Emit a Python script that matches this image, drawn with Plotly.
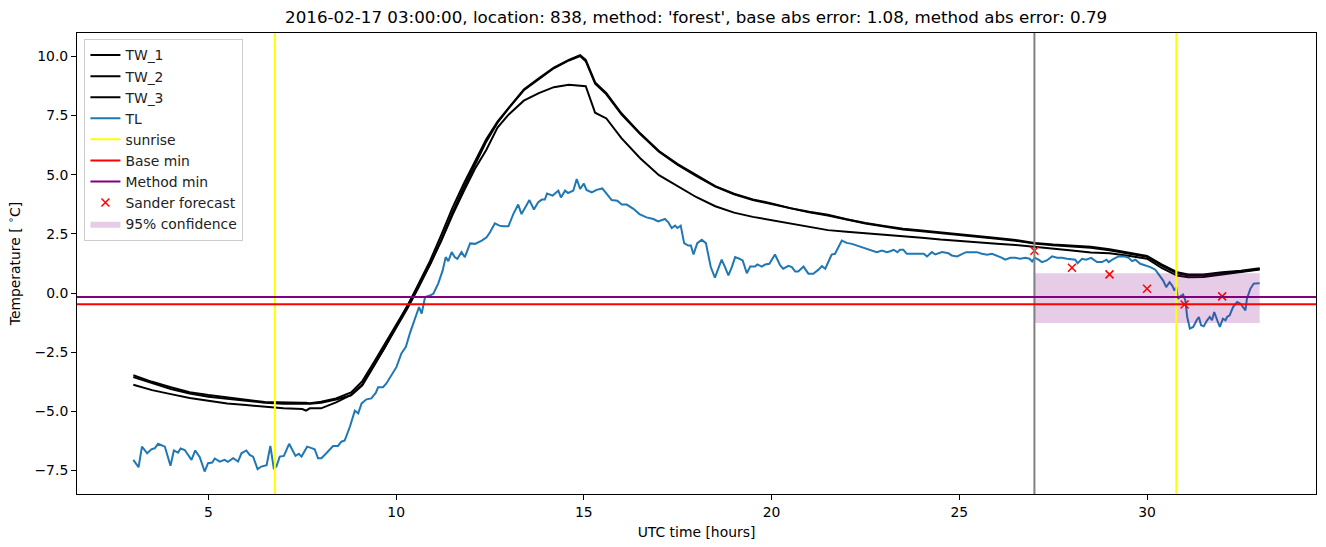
import plotly.graph_objects as go

# ---------------- data ----------------
TW_TIME = [3.0, 3.5, 4.0, 4.5, 5.0, 5.5, 6.0, 6.5, 7.0, 7.5, 7.6, 7.7, 8.0, 8.4, 8.8, 9.1, 9.4, 9.7,
           10.0, 10.3, 10.6, 10.9, 11.2, 11.5, 11.8, 12.1, 12.4, 12.7, 13.0, 13.4, 13.8, 14.2, 14.6,
           14.9, 15.05, 15.3, 15.6, 16.0, 16.5, 17.0, 17.5, 18.0, 18.5, 19.0, 19.5, 20.0, 20.5, 21.0,
           21.5, 22.0, 22.5, 23.0, 23.5, 24.0, 24.5, 25.0, 25.5, 26.0, 26.5, 27.0, 27.5, 28.0, 28.5,
           29.0, 29.5, 30.0, 30.4, 30.8, 31.1, 31.5, 32.0, 32.5, 33.0]
TW_1 = [-3.47, -3.75, -3.98, -4.19, -4.31, -4.42, -4.51, -4.60, -4.63, -4.63, -4.63, -4.66, -4.59,
        -4.45, -4.20, -3.72, -2.95, -2.15, -1.30, -0.55, 0.40, 1.35, 2.45, 3.60, 4.62, 5.55, 6.50,
        7.25, 7.85, 8.60, 9.08, 9.53, 9.85, 10.05, 9.85, 8.90, 8.45, 7.60, 6.75, 6.00, 5.45, 4.97,
        4.52, 4.20, 3.96, 3.79, 3.59, 3.44, 3.31, 3.12, 2.96, 2.84, 2.72, 2.64, 2.57, 2.49, 2.43,
        2.33, 2.24, 2.12, 2.05, 2.00, 1.96, 1.85, 1.70, 1.57, 1.20, 0.88, 0.79, 0.79, 0.88, 0.94, 1.05]
TW_2 = [-3.55, -3.80, -4.05, -4.24, -4.38, -4.47, -4.56, -4.63, -4.68, -4.70, -4.70, -4.68, -4.63,
        -4.50, -4.32, -3.90, -3.10, -2.30, -1.45, -0.65, 0.25, 1.20, 2.25, 3.40, 4.45, 5.45, 6.40,
        7.20, 7.82, 8.57, 9.05, 9.50, 9.83, 10.02, 9.80, 8.85, 8.40, 7.55, 6.72, 5.97, 5.42, 4.94,
        4.50, 4.17, 3.93, 3.76, 3.56, 3.41, 3.28, 3.10, 2.94, 2.81, 2.69, 2.61, 2.54, 2.46, 2.40,
        2.30, 2.21, 2.09, 2.02, 1.97, 1.92, 1.81, 1.66, 1.53, 1.15, 0.84, 0.74, 0.74, 0.84, 0.91, 1.02]
TW_3 = [-3.87, -4.10, -4.27, -4.43, -4.55, -4.67, -4.73, -4.80, -4.87, -4.90, -4.97, -4.87, -4.87,
        -4.62, -4.30, -3.85, -3.10, -2.30, -1.40, -0.55, 0.30, 1.20, 2.20, 3.30, 4.30, 5.25, 6.05,
        6.99, 7.55, 8.13, 8.45, 8.70, 8.80, 8.78, 8.74, 7.62, 7.38, 6.55, 5.70, 4.98, 4.52, 4.05,
        3.67, 3.40, 3.22, 3.08, 2.92, 2.78, 2.66, 2.59, 2.53, 2.46, 2.42, 2.34, 2.26, 2.19, 2.14,
        2.08, 2.03, 1.96, 1.90, 1.80, 1.72, 1.68, 1.58, 1.45, 1.05, 0.74, 0.67, 0.68, 0.78, 0.88, 1.00]

TL_TIME = [3.00, 3.14, 3.23, 3.37, 3.48, 3.57, 3.66, 3.84, 3.99, 4.08, 4.19, 4.26, 4.37, 4.50, 4.55,
           4.65, 4.77, 4.90, 4.99, 5.10, 5.17, 5.30, 5.43, 5.52, 5.66, 5.79, 5.88, 6.01, 6.10, 6.19,
           6.31, 6.41, 6.55, 6.65, 6.74, 6.81, 6.90, 7.01, 7.15, 7.32, 7.41, 7.48, 7.63, 7.75, 7.83,
           7.92, 8.01, 8.14, 8.32, 8.45, 8.54, 8.63, 8.77, 8.90, 8.99, 9.08, 9.21, 9.34, 9.46, 9.52,
           9.65, 9.74, 9.88, 10.01, 10.14, 10.26, 10.37, 10.50, 10.61, 10.68, 10.77, 10.90, 10.99,
           11.12, 11.24, 11.32, 11.39, 11.48, 11.56, 11.63, 11.74, 11.83, 11.97, 12.10, 12.28, 12.41,
           12.50, 12.63, 12.75, 12.85, 12.99, 13.12, 13.25, 13.34, 13.46, 13.55, 13.67, 13.78, 13.88,
           13.96, 14.02, 14.17, 14.32, 14.39, 14.50, 14.58, 14.72, 14.81, 14.90, 15.00, 15.07, 15.21,
           15.34, 15.49, 15.61, 15.74, 15.89, 16.01, 16.14, 16.32, 16.48, 16.67, 16.85, 16.98, 17.16,
           17.25, 17.34, 17.43, 17.49, 17.58, 17.67, 17.78, 17.85, 17.92, 18.02, 18.14, 18.25, 18.38,
           18.49, 18.58, 18.67, 18.76, 18.85, 18.94, 19.03, 19.14, 19.23, 19.34, 19.43, 19.56, 19.62,
           19.74, 19.83, 19.94, 20.09, 20.23, 20.31, 20.45, 20.54, 20.63, 20.71, 20.85, 20.98, 21.11,
           21.25, 21.34, 21.43, 21.60, 21.69, 21.87, 22.00, 22.14, 22.27, 22.40, 22.54, 22.71, 22.80,
           22.94, 23.07, 23.16, 23.25, 23.35, 23.42, 23.51, 23.60, 23.74, 23.87, 24.05, 24.14, 24.27,
           24.36, 24.54, 24.71, 24.80, 24.94, 25.07, 25.18, 25.29, 25.47, 25.60, 25.74, 25.87, 26.00,
           26.14, 26.22, 26.36, 26.49, 26.62, 26.76, 26.87, 26.94, 27.01, 27.11, 27.20, 27.33, 27.47,
           27.60, 27.73, 27.87, 28.00, 28.09, 28.15, 28.27, 28.38, 28.51, 28.67, 28.80, 28.92, 28.98,
           29.11, 29.24, 29.38, 29.51, 29.60, 29.69, 29.82, 29.95, 30.09, 30.22, 30.34, 30.43, 30.51,
           30.60, 30.67, 30.73, 30.78, 30.82, 30.89, 30.96, 31.02, 31.07, 31.14, 31.23, 31.32, 31.38,
           31.44, 31.51, 31.60, 31.67, 31.73, 31.79, 31.87, 31.94, 32.02, 32.09, 32.13, 32.20, 32.29,
           32.40, 32.49, 32.56, 32.62, 32.66, 32.75, 32.84, 32.92, 33.00]
TL = [-7.05, -7.36, -6.49, -6.77, -6.60, -6.56, -6.37, -6.49, -7.30, -6.65, -6.74, -6.57, -6.63, -6.91,
      -7.05, -6.65, -6.93, -7.54, -7.19, -7.16, -6.99, -7.12, -7.05, -7.13, -6.98, -7.12, -6.77, -6.65,
      -6.84, -6.91, -7.44, -7.33, -7.27, -6.46, -7.40, -7.33, -6.91, -6.88, -6.37, -6.88, -6.79, -6.91,
      -6.49, -6.55, -6.60, -6.98, -6.98, -6.77, -6.46, -6.46, -6.28, -6.23, -5.64, -4.97, -5.08, -4.66,
      -4.49, -4.45, -4.21, -3.98, -3.98, -3.82, -3.47, -3.12, -2.55, -2.27, -1.68, -1.08, -0.59, -0.87,
      -0.17, -0.10, -0.03, 0.40, 0.96, 1.52, 1.35, 1.73, 1.52, 1.45, 1.73, 1.52, 2.10, 2.08, 2.22, 2.36,
      2.57, 2.95, 2.85, 2.82, 2.82, 3.34, 3.74, 3.34, 3.69, 3.93, 3.53, 3.83, 3.95, 3.95, 4.21, 4.12,
      4.33, 4.04, 4.33, 4.23, 4.33, 4.82, 4.40, 4.63, 4.36, 4.25, 4.36, 4.42, 4.19, 3.93, 3.90, 3.74,
      3.74, 3.56, 3.34, 3.20, 3.13, 3.03, 3.13, 2.99, 2.75, 2.85, 2.75, 2.85, 2.11, 2.01, 2.01, 1.63,
      2.11, 2.25, 2.11, 1.10, 0.65, 0.99, 1.41, 1.10, 0.75, 1.10, 1.52, 1.45, 1.38, 0.84, 1.12, 1.12,
      1.21, 1.12, 1.21, 1.24, 1.63, 1.17, 1.03, 1.15, 1.10, 0.91, 0.91, 1.12, 0.82, 0.82, 0.99, 1.14,
      1.03, 1.63, 1.66, 2.22, 2.12, 2.08, 2.01, 1.94, 1.87, 1.80, 1.73, 1.80, 1.73, 1.77, 1.83, 1.73,
      1.83, 1.83, 1.66, 1.66, 1.66, 1.66, 1.55, 1.73, 1.63, 1.73, 1.68, 1.59, 1.55, 1.66, 1.73, 1.73,
      1.73, 1.66, 1.62, 1.66, 1.59, 1.49, 1.41, 1.49, 1.49, 1.45, 1.49, 1.45, 1.34, 1.49, 1.41, 1.31,
      1.38, 1.55, 1.49, 1.49, 1.45, 1.41, 1.41, 1.26, 1.45, 1.41, 1.49, 1.31, 1.31, 1.41, 1.31, 1.45,
      1.55, 1.55, 1.49, 1.35, 1.41, 1.24, 1.17, 1.10, 0.99, 0.75, 0.53, 0.25, 0.46, 0.32, 0.11, 0.25,
      -0.24, -0.14, -0.06, -0.31, -1.01, -1.50, -1.43, -1.15, -1.01, -1.36, -1.40, -1.15, -1.01, -1.15,
      -0.80, -1.15, -1.43, -1.08, -1.15, -1.01, -0.94, -0.59, -0.38, -0.45, -0.62, -0.73, -0.24, 0.18,
      0.40, 0.42, 0.42]

SUNRISE = [6.77, 30.78]
FORECAST_START = 27.0
BASE_MIN = -0.47
METHOD_MIN = -0.17
SANDER_TIME = [27, 28, 29, 30, 31, 32]
SANDER = [1.79, 1.07, 0.79, 0.18, -0.48, -0.14]
CONF_START, CONF_END = 27.0, 33.0
CONF_LOW, CONF_HIGH = -1.26, 0.84

TITLE = ("2016-02-17 03:00:00, location: 838, method: 'forest', "
         "base abs error: 1.08, method abs error: 0.79")

# ---------------- figure ----------------
FONT = "DejaVu Sans"
LW = 2.0
fig = go.Figure()

for name, vals in (("TW_1", TW_1), ("TW_2", TW_2), ("TW_3", TW_3)):
    fig.add_trace(go.Scatter(x=TW_TIME, y=vals, mode="lines", name=name,
                             line=dict(color="black", width=LW)))
fig.add_trace(go.Scatter(x=TL_TIME, y=TL, mode="lines", name="TL",
                         line=dict(color="#1f77b4", width=LW)))

# confidence band
fig.add_trace(go.Scatter(x=[CONF_START, CONF_END, CONF_END, CONF_START, CONF_START],
                         y=[CONF_LOW, CONF_LOW, CONF_HIGH, CONF_HIGH, CONF_LOW],
                         mode="lines", fill="toself", fillcolor="rgba(128,0,128,0.2)",
                         line=dict(width=0), name="95% confidence", showlegend=False,
                         hoverinfo="skip"))

# legend-only entries for reference lines
fig.add_trace(go.Scatter(x=[None], y=[None], mode="lines", name="sunrise",
                         line=dict(color="yellow", width=LW)))
fig.add_trace(go.Scatter(x=[None], y=[None], mode="lines", name="Base min",
                         line=dict(color="red", width=LW)))
fig.add_trace(go.Scatter(x=[None], y=[None], mode="lines", name="Method min",
                         line=dict(color="purple", width=LW)))
fig.add_trace(go.Scatter(x=SANDER_TIME, y=SANDER, mode="markers", name="Sander forecast",
                         marker=dict(symbol="x-thin", size=8, color="red",
                                     line=dict(color="red", width=1.5))))
fig.add_trace(go.Scatter(x=[None], y=[None], mode="lines", fill="toself",
                         fillcolor="rgba(128,0,128,0.2)", line=dict(width=0),
                         name="95% confidence"))

shapes = []
for s in SUNRISE:
    shapes.append(dict(type="line", xref="x", yref="y domain", x0=s, x1=s, y0=0, y1=1,
                       line=dict(color="yellow", width=LW)))
shapes.append(dict(type="line", xref="x", yref="y domain", x0=FORECAST_START, x1=FORECAST_START,
                   y0=0, y1=1, line=dict(color="grey", width=LW)))
shapes.append(dict(type="line", xref="x domain", yref="y", x0=0, x1=1, y0=BASE_MIN, y1=BASE_MIN,
                   line=dict(color="red", width=LW)))
shapes.append(dict(type="line", xref="x domain", yref="y", x0=0, x1=1, y0=METHOD_MIN, y1=METHOD_MIN,
                   line=dict(color="purple", width=LW)))

fig.update_layout(
    width=1326, height=547,
    margin=dict(l=77, r=10, t=33, b=53),
    paper_bgcolor="white", plot_bgcolor="white",
    font=dict(family=FONT, size=13.9, color="black"),
    title=dict(text=TITLE, x=0.525, xanchor="center", y=1 - 17 / 547, yanchor="middle",
               font=dict(family=FONT, size=16.7, color="black")),
    shapes=shapes,
    legend=dict(x=0.006, y=0.988, xanchor="left", yanchor="top",
                bgcolor="rgba(255,255,255,0.8)", bordercolor="#cccccc", borderwidth=1,
                font=dict(family=FONT, size=13.9, color="#222"), tracegroupgap=0,
                itemwidth=30),
    showlegend=True,
)
fig.update_xaxes(range=[1.5, 34.5], tickvals=[5, 10, 15, 20, 25, 30], ticks="outside",
                 ticklen=5, tickcolor="black", showline=True, linecolor="black", linewidth=1,
                 mirror=True, showgrid=False, zeroline=False,
                 title=dict(text="UTC time [hours]", standoff=8, font=dict(size=13.9)),
                 tickfont=dict(size=13.9))
fig.update_yaxes(range=[-8.49, 10.99], tickvals=[-7.5, -5, -2.5, 0, 2.5, 5, 7.5, 10],
                 tickformat=".1f", ticks="outside", ticklen=5, tickcolor="black",
                 showline=True, linecolor="black", linewidth=1, mirror=True, showgrid=False,
                 zeroline=False,
                 title=dict(text="Temperature [ <sup>∘</sup>C]", standoff=10, font=dict(size=13.9)),
                 tickfont=dict(size=13.9))

fig.write_html("out.html")
